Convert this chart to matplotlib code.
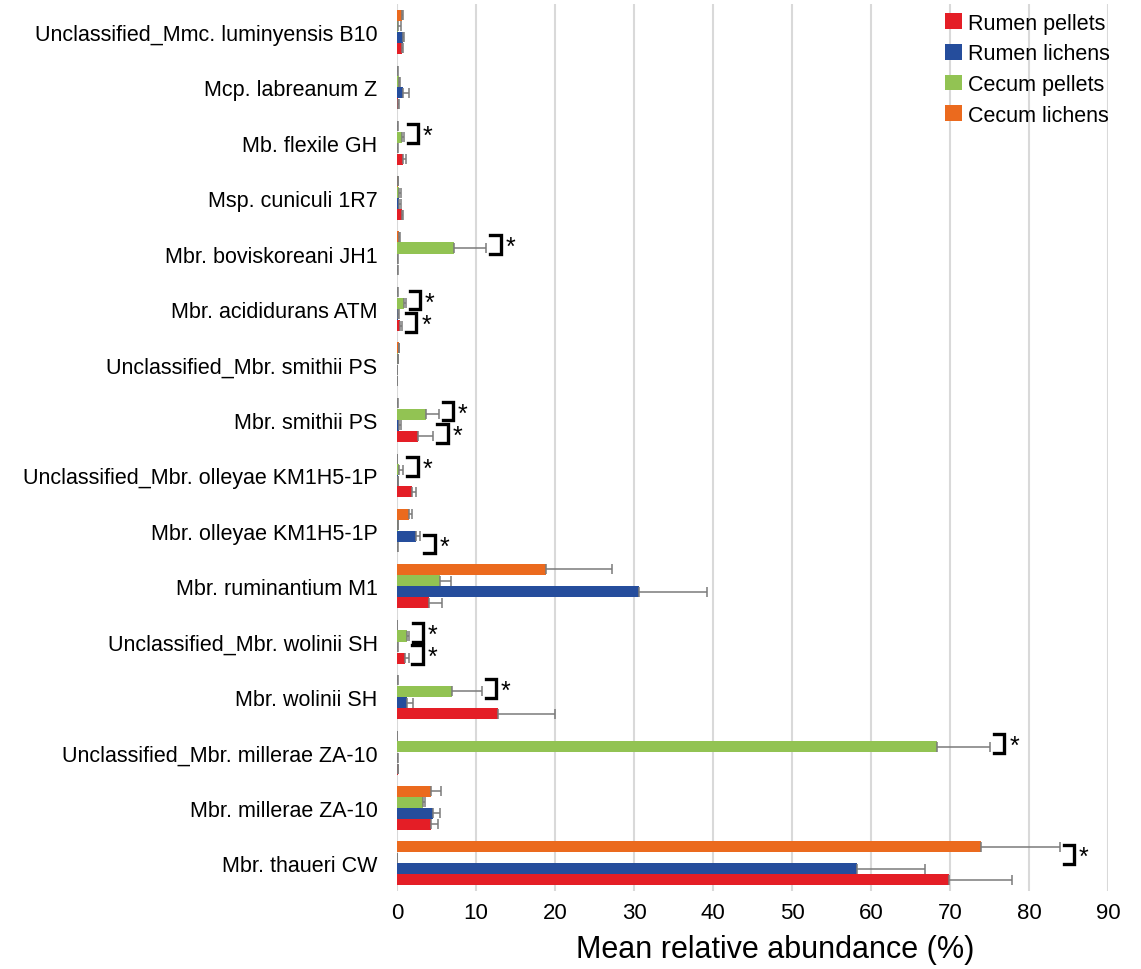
import numpy as np
import matplotlib
matplotlib.use("Agg")
import matplotlib.pyplot as plt
from matplotlib.patches import Patch

plt.rcParams["font.family"] = ["Liberation Sans", "DejaVu Sans"]

# ==========================
# DATA (top to bottom)
# ==========================

categories = [
    "Unclassified_Mmc. luminyensis B10",
    "Mcp. labreanum Z",
    "Mb. flexile GH",
    "Msp. cuniculi 1R7",
    "Mbr. boviskoreani JH1",
    "Mbr. acididurans ATM",
    "Unclassified_Mbr. smithii PS",
    "Mbr. smithii PS",
    "Unclassified_Mbr. olleyae KM1H5-1P",
    "Mbr. olleyae KM1H5-1P",
    "Mbr. ruminantium M1",
    "Unclassified_Mbr. wolinii SH",
    "Mbr. wolinii SH",
    "Unclassified_Mbr. millerae ZA-10",
    "Mbr. millerae ZA-10",
    "Mbr. thaueri CW",
]

rumen_pellets = [0.6, 0.1, 0.75, 0.6, 0.05, 0.35, 0.0, 2.7, 1.95, 0.05, 4.0, 1.0, 12.8, 0.1, 4.25, 69.9]
rumen_pellets_err = [0.15, 0.1, 0.35, 0.2, 0.05, 0.3, 0.0, 1.9, 0.5, 0.05, 1.65, 0.45, 7.2, 0.05, 0.95, 7.9]

rumen_lichens = [0.75, 0.75, 0.05, 0.3, 0.05, 0.1, 0.0, 0.3, 0.1, 2.35, 30.6, 0.05, 1.27, 0.05, 4.55, 58.2]
rumen_lichens_err = [0.1, 0.8, 0.05, 0.2, 0.05, 0.1, 0.0, 0.15, 0.05, 0.6, 8.7, 0.05, 0.75, 0.05, 0.85, 8.7]

cecum_pellets = [0.15, 0.25, 0.6, 0.25, 7.2, 0.85, 0.1, 3.7, 0.3, 0.1, 5.4, 1.2, 7.0, 68.4, 3.3, 0.0]
cecum_pellets_err = [0.35, 0.1, 0.25, 0.25, 4.1, 0.25, 0.05, 1.6, 0.5, 0.05, 1.4, 0.3, 3.7, 6.7, 0.2, 0.0]

cecum_lichens = [0.6, 0.05, 0.05, 0.1, 0.3, 0.05, 0.2, 0.05, 0.0, 1.5, 18.8, 0.0, 0.05, 0.0, 4.35, 73.9]
cecum_lichens_err = [0.15, 0.05, 0.05, 0.05, 0.1, 0.05, 0.1, 0.05, 0.0, 0.45, 8.4, 0.0, 0.05, 0.0, 1.25, 10.0]

series_labels = ["Rumen pellets", "Rumen lichens", "Cecum pellets", "Cecum lichens"]
colors = ["#E41E26", "#254D9C", "#92C353", "#EB6A1E"]

# significant comparisons: (category, pair)
significance = [
    ("Mb. flexile GH", "cecum"),
    ("Mbr. boviskoreani JH1", "cecum"),
    ("Mbr. acididurans ATM", "cecum"),
    ("Mbr. acididurans ATM", "rumen"),
    ("Mbr. smithii PS", "cecum"),
    ("Mbr. smithii PS", "rumen"),
    ("Unclassified_Mbr. olleyae KM1H5-1P", "cecum"),
    ("Mbr. olleyae KM1H5-1P", "rumen"),
    ("Unclassified_Mbr. wolinii SH", "cecum"),
    ("Unclassified_Mbr. wolinii SH", "rumen"),
    ("Mbr. wolinii SH", "cecum"),
    ("Unclassified_Mbr. millerae ZA-10", "cecum"),
    ("Mbr. thaueri CW", "cecum"),
]

# ==========================
# PLOT
# ==========================

values = [rumen_pellets, rumen_lichens, cecum_pellets, cecum_lichens]
errors = [rumen_pellets_err, rumen_lichens_err, cecum_pellets_err, cecum_lichens_err]

n = len(categories)
y = np.arange(n)[::-1]
bar_h = 0.2
offsets = [-0.3, -0.1, 0.1, 0.3]

fig = plt.figure(figsize=(11.41, 9.70), dpi=100)
ax = fig.add_axes([0.348, 0.0804, 0.623, 0.9144])

for vals, errs, off, col, lab in zip(values, errors, offsets, colors, series_labels):
    vals = np.array(vals)
    errs = np.array(errs)
    ax.barh(
        y + off, vals, height=bar_h, color=col, label=lab, zorder=2
    )
    ax.errorbar(
        vals, y + off,
        xerr=[np.zeros_like(errs), errs],
        fmt="none", ecolor="#7a7a7a", elinewidth=1.1,
        capsize=3.5, capthick=1.1, zorder=3
    )

# ==========================
# SIGNIFICANCE BRACKETS
# ==========================

gap = 0.5
width = 1.3
for cat, pair in significance:
    i = categories.index(cat)
    yc = y[i]
    if pair == "cecum":
        idx = [3, 2]
    else:
        idx = [1, 0]
    top_y = yc + offsets[idx[0]] + 0.03
    bot_y = yc + offsets[idx[1]] - 0.11
    reach = max(values[k][i] + errors[k][i] for k in idx)
    x0 = reach + gap
    x1 = x0 + width
    ax.plot(
        [x0, x1, x1, x0], [top_y, top_y, bot_y, bot_y],
        color="black", lw=2.4, solid_joinstyle="miter", zorder=4
    )
    ax.text(
        x1 + 0.6, (top_y + bot_y) / 2 - 0.17, "*",
        fontsize=18, ha="left", va="baseline", zorder=4
    )

ax.set_xlim(0, 90)
ax.set_ylim(-0.5, n - 0.5)
ax.set_xticks(np.arange(0, 91, 10))
ax.set_yticks(y)
ax.set_yticklabels(categories)

ax.xaxis.grid(True, color="#d9d9d9", lw=1.5, zorder=0)
ax.set_axisbelow(True)
for s in ax.spines.values():
    s.set_visible(False)

ax.tick_params(axis="y", length=0, pad=14, labelsize=15.5)
ax.tick_params(axis="x", length=0, pad=8, labelsize=16)

ax.set_xlabel("Mean relative abundance (%)", fontsize=22)
ax.xaxis.set_label_coords(0.532, -0.048)

handles = [Patch(facecolor=c, edgecolor="none") for c in colors]
ax.legend(
    handles, series_labels,
    loc="upper right", bbox_to_anchor=(1.015, 1.0),
    frameon=False, fontsize=15.5,
    handlelength=0.75, handleheight=0.75,
    handletextpad=0.3, labelspacing=0.45, borderaxespad=0
)

fig.savefig("out.png", dpi=100)
